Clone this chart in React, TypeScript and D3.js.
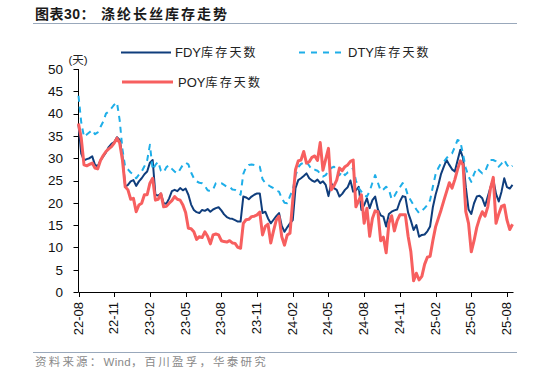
import React from "react";
import * as d3 from "d3";

const tickLabels = ["22-08","22-11","23-02","23-05","23-08","23-11","24-02","24-05","24-08","24-11","25-02","25-05","25-08"];
const tickStep = 13;
const yTicks = [0,5,10,15,20,25,30,35,40,45,50];

const fdy = [37.5,31,29.5,29.8,30,30.4,28.5,28.2,29.5,30.4,31.3,32.5,33.2,33.6,34.7,34.1,30.5,23.6,24,24.8,
25.1,23.8,24.8,25.5,26.4,27,29,29.6,21.8,21.6,22.1,19.9,19.8,21,22.6,22.9,22.6,23.3,22.8,23.2,
21.8,19.6,18.4,17.9,17.7,18.4,18.2,18.6,18,18.5,18.8,19,18.3,17.4,16.8,16.5,16.4,16.1,15.8,15.8,
21.4,21.2,20.8,21.4,21.8,22.1,22.1,17.7,18,16.5,15.4,16.2,17,17.7,14.8,13.5,14.5,15.4,16.1,23.3,
25.1,25.5,26,26.6,25.5,25,24.7,25.2,24.4,24.8,24,21.5,24.4,23.3,22.9,21.4,22,22.9,23.5,25,
22.5,22.8,23.6,18.4,19.5,21,18.8,20.6,21.4,18.5,17.2,16.9,14.7,17.5,18,18.3,18.5,20.3,21.5,21.3,
17.8,16,13.9,15,12.4,12.8,12.9,13.6,14.7,19,21.8,24,26.5,28.1,29.6,28.5,27.5,27,29.5,31.9,
30,23.5,18.5,17.5,19.9,21.4,21.6,21,19.3,21.4,23.5,25.3,22,20.3,22.5,25.5,23.5,23.2,24];

const dty = [44,38,34.8,35.3,35.8,36.3,35.4,35.8,37,38.2,40,40.5,41.2,42,42.5,38.5,32,28,27.5,26.8,
26.3,25.5,26.3,27,28.2,29.5,33,27.4,28.5,29.2,27.2,26.8,28,28.4,27.6,27,26.6,27.5,28.5,29,
28.6,26.8,25.5,24.8,24.5,24.4,23.8,22.8,22.6,23,24.4,24.5,24.4,24,23.6,23.6,23,22.9,22.4,21.8,
26.5,28,28.5,28.6,28.5,28.3,28.1,25.3,24.4,24,23.6,23.3,22.7,22.5,21,20,19.9,21.5,22.9,26,
28,28.7,29,29.2,28.3,27.4,27.4,27.2,26.5,25.9,26.2,27.2,27.8,28.1,27.2,26.2,27,26.2,26.8,27,
27.8,25,23.3,22.5,21.6,21.4,22.6,24.5,26.2,24.5,22.7,23,23.6,23,20.8,21.5,22.6,23.5,24.4,23.5,
21.5,20.5,19.5,18.5,17.7,18.2,18.8,19.5,20.6,23.6,26.4,27.8,28.9,29.2,30,30.8,31.1,32.5,34.1,33.8,
30.8,27.8,25.9,24.7,26.5,27.8,27.2,26.6,27,28.5,29.6,29.6,29.3,28.1,28.8,29.6,28.5,27.8,28.3];

const poy = [37.8,34.5,28.5,28.3,28.6,28.9,27.8,27.6,29.5,30.6,31.5,32.1,32.6,33.4,34.5,33.4,29.6,23.6,22.9,20.8,
21,18,19.5,19.9,21.8,21.8,24.4,25.5,20.6,20.8,22,19.1,19.2,19.9,20.5,21.4,20.8,20.6,19.5,17.8,
14.3,14.2,13.5,11.8,12.4,12.2,13.5,12.5,10.8,12.8,13,12.8,11.5,11.3,11.2,11.5,11,10.9,10,9.8,
15.4,16.2,16.3,16.9,17,17.3,17.9,12.8,14.7,15.2,11,13.7,16.1,17,12.4,10.5,12.8,13.2,20.6,27.4,
29.4,29.6,31.5,28.9,29.2,30.2,30.5,29.5,33.5,27.3,29.8,32.2,22.9,23.8,25.1,27.8,27.2,28.1,28.5,29.3,
29.6,19.1,20.5,21.8,15.4,18.8,12.5,16.5,18.2,18,11.5,12.3,8.8,15.4,17.1,13.7,16,17.3,17.3,17.3,
12.5,9,2.5,4.2,2.7,3.5,6.2,7.8,8,11.5,14.6,16.5,18.4,20.5,22.5,24.5,23.3,25.2,27.5,29.4,
28.5,18,15.4,9,11.5,14.5,16.5,18,17,19.1,23.3,25.7,15.4,17.5,19.2,19.5,16.1,14,15.2];

const seriesCodes = ["FDY", "DTY", "POY"];
const seriesSuffix = "库存天数";
const seriesColors = ["#0f3d7c", "#1eaee8", "#f75f5f"];

const W = 534, H = 377;
const plotLeft = 78.5, plotRight = 512.5, plotTop = 69, plotBottom = 292;
const latin = "'Liberation Sans', Arial, 'Noto Sans CJK SC', sans-serif";
const cjk = "'Liberation Sans', 'Noto Sans CJK SC', sans-serif";

function LegendText({ x, y, code }: { x: number; y: number; code: string }) {
  return (
    <text x={x} y={y}>
      <tspan fontSize={13}>{code}</tspan>
      <tspan letterSpacing={2.2} fontSize={12}>{seriesSuffix}</tspan>
    </text>
  );
}

export default function App() {
  const n = fdy.length;
  const x = d3.scaleLinear().domain([0, n - 1]).range([plotLeft, plotRight]);
  const y = d3.scaleLinear().domain([0, 50]).range([plotBottom, plotTop]);
  const line = d3.line<number>().x((_, i) => x(i)).y(d => y(d)).curve(d3.curveLinear);

  return (
    <svg width={W} height={H} style={{ position: "absolute", left: 0, top: 0, background: "#fff" }}>
      {/* Title */}
      <text x={35} y={19} fontFamily={cjk} fontWeight="bold" fontSize={14} fill="#1a1a1a">
        <tspan letterSpacing={0.5}>图表30：</tspan>
        <tspan x={101} letterSpacing={2}>涤纶长丝库存走势</tspan>
      </text>
      <line x1={33} x2={517} y1={23.5} y2={23.5} stroke="#99a8bb" strokeWidth={1} />

      {/* Legend */}
      <g fontFamily={cjk} fill="#222">
        <line x1={121} x2={171} y1={52.5} y2={52.5} stroke={seriesColors[0]} strokeWidth={2} />
        <LegendText x={175} y={57} code={seriesCodes[0]} />
        <line x1={299} x2={345} y1={52.5} y2={52.5} stroke={seriesColors[1]} strokeWidth={2} strokeDasharray="6,6" />
        <LegendText x={348} y={57} code={seriesCodes[1]} />
        <line x1={122} x2={173} y1={82} y2={82} stroke={seriesColors[2]} strokeWidth={3} />
        <LegendText x={178} y={86.5} code={seriesCodes[2]} />
      </g>

      {/* Y axis */}
      <text x={78} y={64} textAnchor="middle" fontFamily={cjk} fontSize={11.5} fill="#222">(天)</text>
      <line x1={plotLeft} x2={plotLeft} y1={plotTop} y2={plotBottom} stroke="#000" strokeWidth={1} />
      {yTicks.map(t => (
        <g key={t}>
          <line x1={plotLeft - 5} x2={plotLeft} y1={Math.round(y(t)) + 0.5} y2={Math.round(y(t)) + 0.5} stroke="#000" />
          <text x={63} y={y(t)} dy="0.36em" textAnchor="end" fontFamily={latin} fontSize={13.5} fill="#111">{t}</text>
        </g>
      ))}

      {/* X axis */}
      <line x1={plotLeft} x2={plotRight + 1} y1={plotBottom + 0.5} y2={plotBottom + 0.5} stroke="#000" />
      {tickLabels.map((lab, k) => {
        const xi = Math.round(x(k * tickStep)) + 0.5;
        return (
          <g key={lab}>
            <line x1={xi} x2={xi} y1={plotBottom} y2={plotBottom + 5} stroke="#000" />
            <text transform={`translate(${xi - 1},${plotBottom + 10}) rotate(-90)`} dy="0.36em" textAnchor="end"
              fontFamily={latin} fontSize={13} fill="#111">{lab}</text>
          </g>
        );
      })}

      {/* Series */}
      <path d={line(fdy) || ""} fill="none" stroke={seriesColors[0]} strokeWidth={2} strokeLinejoin="round" />
      <path d={line(dty) || ""} fill="none" stroke={seriesColors[1]} strokeWidth={2} strokeDasharray="6,5" strokeLinejoin="round" />
      <path d={line(poy) || ""} fill="none" stroke={seriesColors[2]} strokeWidth={3} strokeLinejoin="round" />

      {/* Source */}
      <line x1={33} x2={517} y1={352.5} y2={352.5} stroke="#99a8bb" strokeWidth={1} />
      <text x={35} y={366} fontFamily={cjk} fontSize={11.5} fill="#8a8a8a">
        <tspan letterSpacing={2.2}>资料来源：</tspan>
        <tspan letterSpacing={0.3}>Wind</tspan>
        <tspan letterSpacing={2.2}>，百川盈孚，华泰研究</tspan>
      </text>
    </svg>
  );
}
